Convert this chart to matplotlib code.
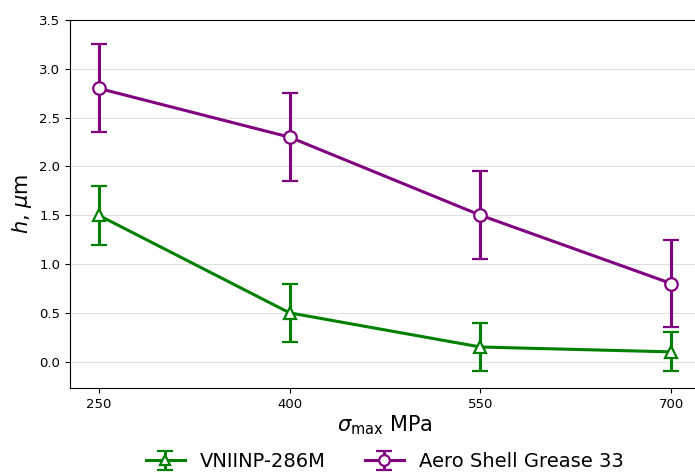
import matplotlib
matplotlib.use("Agg")
from matplotlib import pyplot as plt

stress = [250, 400, 550, 700]
vniinp = [1.5, 0.5, 0.15, 0.1]
vniinp_err = [0.3, 0.3, 0.25, 0.2]
aero = [2.8, 2.3, 1.5, 0.8]
aero_err = [0.45, 0.45, 0.45, 0.45]

fig = plt.figure(figsize=(6.95, 4.73), dpi=100)
ax = fig.add_axes([0.1007, 0.1797, 0.9065, 0.778])

ax.errorbar(stress, vniinp, yerr=vniinp_err, color='green', marker='^', markersize=9,
            markerfacecolor='white', markeredgewidth=1.6, linewidth=2.2, capsize=6,
            elinewidth=2.2, capthick=2.2, label='VNIINP-286M')
ax.errorbar(stress, aero, yerr=aero_err, color='purple', marker='o', markersize=9,
            markerfacecolor='white', markeredgewidth=1.6, linewidth=2.2, capsize=6,
            elinewidth=2.2, capthick=2.2, label='Aero Shell Grease 33')

ax.set_xlim(227.5, 722.5)
ax.set_ylim(-0.27, 3.5)
ax.set_xticks(stress)
ax.set_yticks([0.0, 0.5, 1.0, 1.5, 2.0, 2.5, 3.0, 3.5])
ax.tick_params(labelsize=9.5)
ax.grid(axis='y', color='#e0e0e0', linewidth=0.8)
ax.set_axisbelow(True)
# the original is cropped just before the right frame edge
ax.spines['right'].set_visible(False)

ax.set_xlabel(r'$\sigma_{\max}$ MPa', fontsize=15, labelpad=2)
ax.set_ylabel(r'$h$, $\mu$m', fontsize=15)

ax.legend(loc='center', bbox_to_anchor=(0.5, -0.2), ncol=2, frameon=False,
          fontsize=14, markerscale=0.85)

fig.savefig('out.png', dpi=100)
